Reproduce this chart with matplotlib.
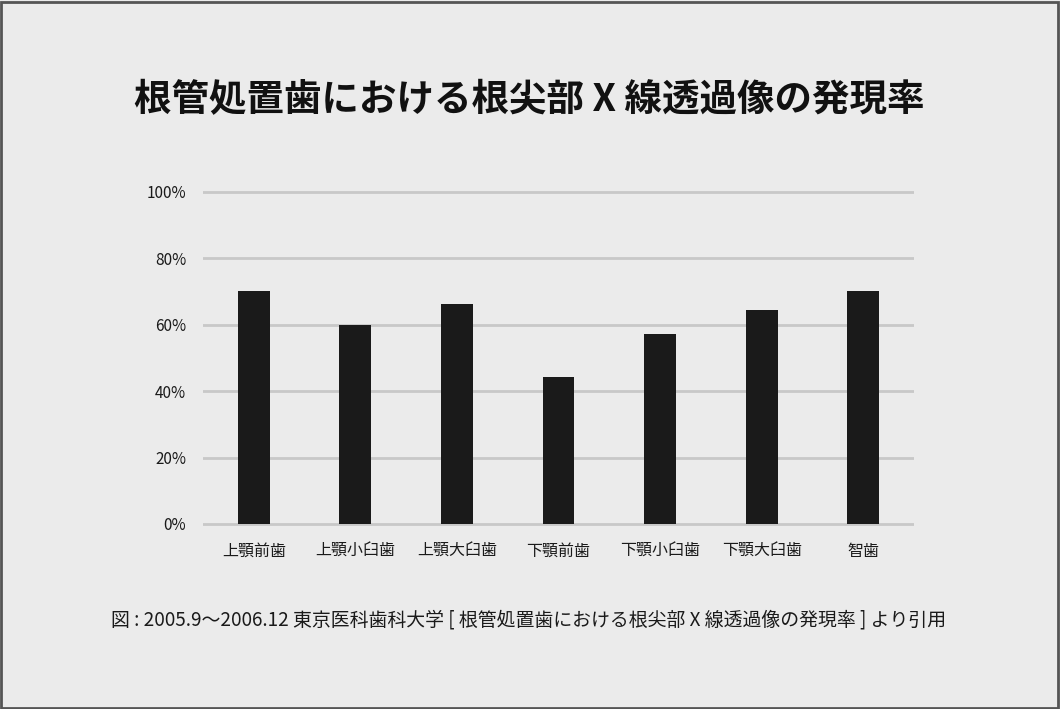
import matplotlib
matplotlib.use("Agg")
import matplotlib.pyplot as plt
from matplotlib.patches import Rectangle
from matplotlib.ticker import FuncFormatter

plt.rcParams['font.family'] = ['Noto Sans CJK JP', 'DejaVu Sans']

title = "根管処置歯における根尖部 X 線透過像の発現率"
caption = "図 : 2005.9〜2006.12 東京医科歯科大学 [ 根管処置歯における根尖部 X 線透過像の発現率 ] より引用"
categories = ["上顎前歯", "上顎小臼歯", "上顎大臼歯", "下顎前歯", "下顎小臼歯", "下顎大臼歯", "智歯"]
values = [70.2, 59.9, 66.3, 44.2, 57.2, 64.6, 70.2]
yticks = [0, 20, 40, 60, 80, 100]

W, H = 1060, 709
bg = "#ebebeb"
fig = plt.figure(figsize=(W / 100, H / 100), dpi=100, facecolor=bg)

# plot area in pixels
x0, x1 = 203, 914
y_top_px, y_bot_px = 192, 524
px_per_unit = (y_bot_px - y_top_px) / 100.0
ymin, ymax = -1.5, 101.5
top_px = y_bot_px - ymax * px_per_unit
bot_px = y_bot_px - ymin * px_per_unit
ax = fig.add_axes([x0 / W, 1 - bot_px / H, (x1 - x0) / W, (bot_px - top_px) / H])
ax.set_facecolor(bg)

xs = list(range(len(categories)))
ax.bar(xs, values, width=0.315, color="#1a1a1a", zorder=3)
ax.set_xlim(-0.5, len(categories) - 0.5)
ax.set_ylim(ymin, ymax)
ax.set_yticks(yticks)
ax.yaxis.set_major_formatter(FuncFormatter(lambda v, p: f"{int(v)}%"))
ax.set_xticks(xs)
ax.set_xticklabels(categories, fontsize=11.5, color="#1a1a1a")
ax.tick_params(axis='y', labelsize=11, colors="#1a1a1a", length=0, pad=12)
ax.tick_params(axis='x', length=0, pad=10)
ax.grid(axis='y', color="#c8c8c8", linewidth=2, zorder=0)
for s in ax.spines.values():
    s.set_visible(False)

fig.text(529 / W, 1 - 100 / H, title, ha='center', va='center', fontsize=27,
         fontweight='bold', color="#111111")
fig.text(529 / W, 1 - 620 / H, caption, ha='center', va='center', fontsize=13.6,
         color="#1a1a1a")

fig.patches.append(Rectangle((0.001, 0.0015), 0.997, 0.996, transform=fig.transFigure,
                             fill=False, edgecolor="#555555", linewidth=2))

fig.savefig("out.png", dpi=100, facecolor=bg)
